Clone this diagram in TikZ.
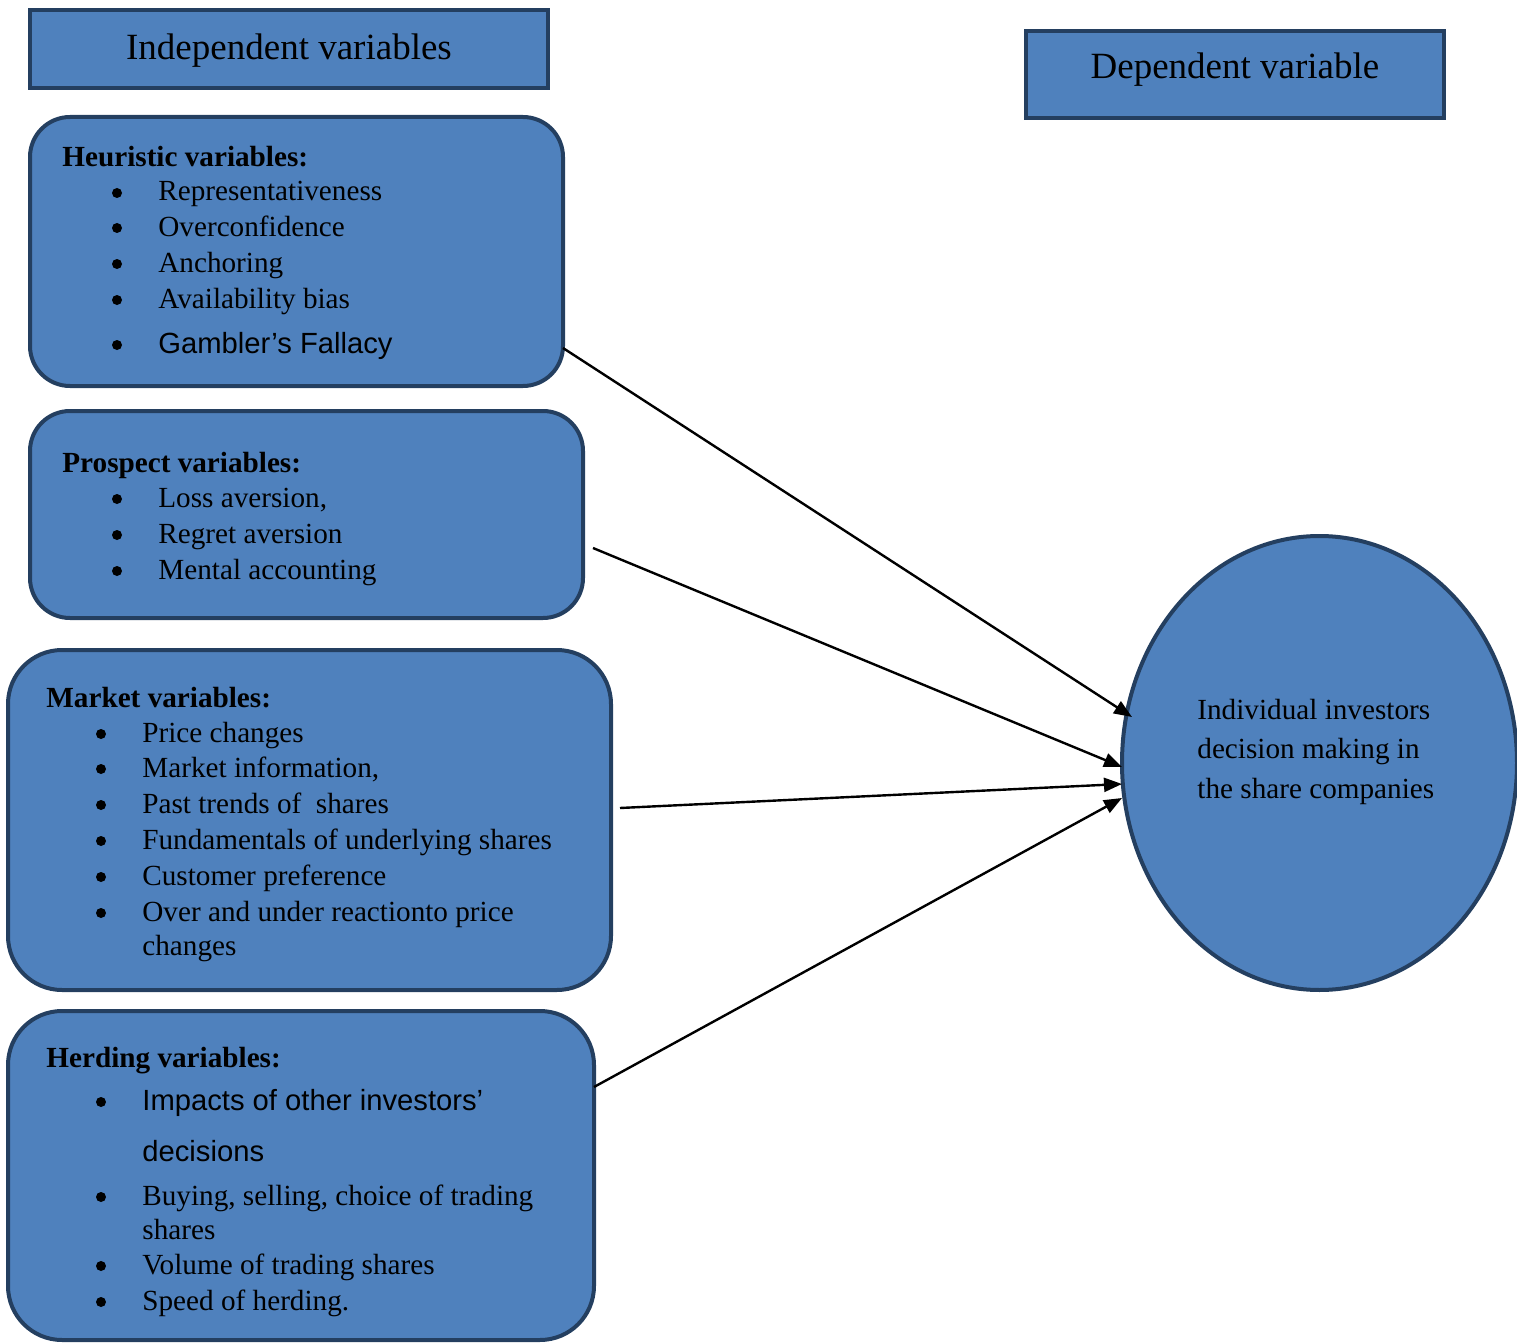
\documentclass[tikz,border=0pt]{standalone}
\usepackage{fontspec}
\setmainfont{Liberation Serif}
\newfontfamily\arialf{Liberation Sans}
\usetikzlibrary{fit,shapes.geometric,arrows.meta}
\definecolor{boxfill}{HTML}{4F81BD}
\definecolor{boxline}{HTML}{243F60}
\tikzset{
  hdrbox/.style={draw=boxline, fill=boxfill, line width=2pt, inner sep=0pt, rectangle},
  hdrtxt/.style={inner sep=0pt, font=\fontsize{18.5}{22}\selectfont},
  varbox/.style={draw=boxline, fill=boxfill, line width=2pt, inner sep=0pt, rectangle, rounded corners=#1},
  varbox/.default=20pt,
  txt/.style={anchor=base west, inner sep=0pt, font=\fontsize{14.6}{17}\selectfont},
  hd/.style={txt, font=\fontsize{14.6}{17}\selectfont\bfseries},
  atxt/.style={txt, font=\fontsize{14.6}{17}\selectfont\arialf},
  bul/.style={circle, fill=black, inner sep=0pt, minimum size=5pt},
  conn/.style={line width=1.2pt, -{Triangle[length=9pt,width=7pt]}}
}
\begin{document}
\begin{tikzpicture}[x=0.5pt,y=-0.5pt]
\useasboundingbox (0,0) rectangle (1517,1343);
% headers
\node[hdrbox, fit={(30,10) (548,88)}] (indep) {};
\node[hdrtxt] (indept) at (289,51) {Independent variables};
\node[hdrbox, fit={(1026,31) (1444,118)}] (dep) {};
\node[hdrtxt] (dept) at (1235,70) {Dependent variable};
% boxes
\node[varbox=20pt, fit={(30,117) (563,386)}] (heur) {};
\node[varbox=20pt, fit={(30,411) (583,618)}] (prosp) {};
\node[varbox=27pt, fit={(8,650) (611,990)}] (market) {};
\node[varbox=27pt, fit={(8,1011) (594,1340)}] (herd) {};
% ellipse
\node[ellipse, draw=boxline, fill=boxfill, line width=2pt, inner sep=0pt,
      minimum width=197.5pt, minimum height=227pt] (dv) at (1319.5,763) {};
% heuristic text
\node[hd] (h0) at (62,167) {Heuristic variables:};
\foreach \y/\t [count=\i] in {201/Representativeness, 236/Overconfidence, 272/Anchoring, 308/Availability bias}{
  \node[bul] (hb\i) at (117,\y-8) {};
  \node[txt] (ht\i) at (158,\y) {\t};
}
\node[bul] (hb5) at (117,345) {};
\node[atxt] (ht5) at (158,353) {Gambler’s Fallacy};
% prospect text
\node[hd] (p0) at (62,472) {Prospect variables:};
\foreach \y/\t [count=\i] in {507/{Loss aversion,}, 543/Regret aversion, 579/Mental accounting}{
  \node[bul] (pb\i) at (117,\y-8) {};
  \node[txt] (pt\i) at (158,\y) {\t};
}
% market text
\node[hd] (m0) at (46,707) {Market variables:};
\foreach \y/\t [count=\i] in {742/Price changes, 777/{Market information,}, 813/{Past trends of \ shares}, 849/Fundamentals of underlying shares, 885/Customer preference, 921/Over and under reactionto price}{
  \node[bul] (mb\i) at (101,\y-8) {};
  \node[txt] (mt\i) at (142,\y) {\t};
}
\node[txt] (mt7) at (142,955) {changes};
% herding text
\node[hd] (r0) at (46,1067) {Herding variables:};
\node[bul] (rb1) at (101,1102) {};
\node[atxt] (rt1) at (142,1110) {Impacts of other investors’};
\node[atxt] (rt1b) at (142,1161) {decisions};
\node[bul] (rb2) at (101,1197) {};
\node[txt] (rt2) at (142,1205) {Buying, selling, choice of trading};
\node[txt] (rt2b) at (142,1239) {shares};
\node[bul] (rb3) at (101,1266) {};
\node[txt] (rt3) at (142,1274) {Volume of trading shares};
\node[bul] (rb4) at (101,1302) {};
\node[txt] (rt4) at (142,1310) {Speed of herding.};
% ellipse text
\node[txt] (d1) at (1197,719) {Individual investors};
\node[txt] (d2) at (1197,758) {decision making in};
\node[txt] (d3) at (1197,798) {the share companies};
% connectors
\coordinate (s1) at (563,348);
\coordinate (s2) at (593,548);
\coordinate (s3) at (620,808);
\coordinate (s4) at (594,1087);
\coordinate (e1) at (1132,717);
\coordinate (e2) at (1122,767);
\coordinate (e3) at (1122,784);
\coordinate (e4) at (1122,798);
\draw[conn] (s1) -- (e1);
\draw[conn] (s2) -- (e2);
\draw[conn] (s3) -- (e3);
\draw[conn] (s4) -- (e4);
\end{tikzpicture}
\end{document}
